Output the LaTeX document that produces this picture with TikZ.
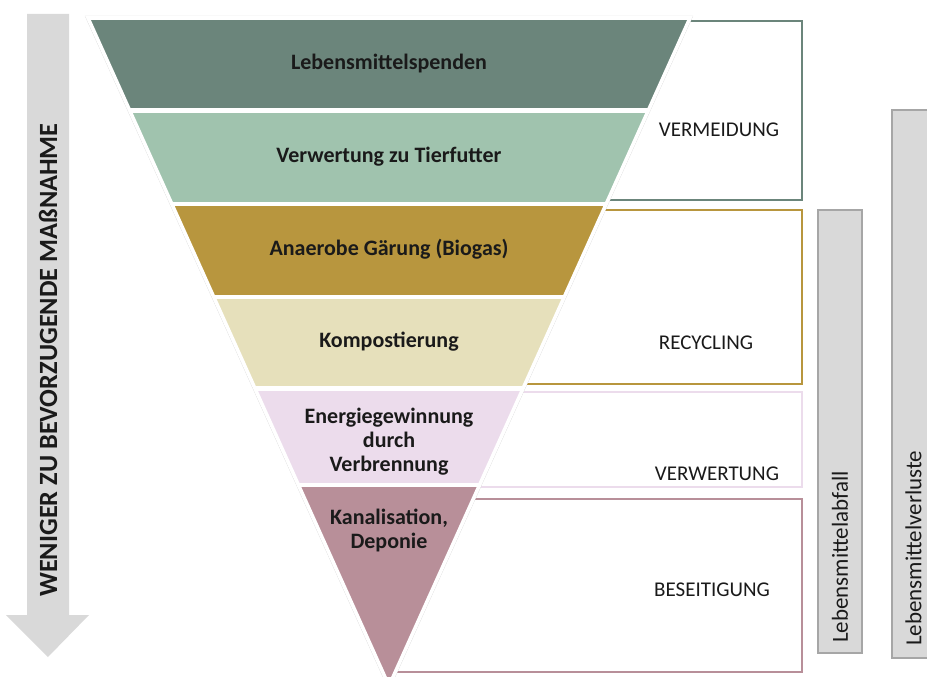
\documentclass[tikz,border=0pt]{standalone}
\usepackage{fontspec}
\setmainfont{Carlito}
\definecolor{cA}{HTML}{6B857B}
\definecolor{cB}{HTML}{A0C3AE}
\definecolor{cC}{HTML}{B8963E}
\definecolor{cD}{HTML}{E6E0BB}
\definecolor{cE}{HTML}{ECDCEC}
\definecolor{cF}{HTML}{B88F99}
\definecolor{barfill}{HTML}{D9D9D9}
\definecolor{barline}{HTML}{A6A6A6}
\definecolor{txt}{HTML}{1A1A1A}
\tikzset{
  layertext/.style={font=\fontsize{22}{24}\selectfont\bfseries, text=txt, align=center, inner sep=0pt},
  boxtext/.style={font=\fontsize{21}{24}\selectfont, text=txt, inner sep=0pt},
  boxline/.style={line width=2.6pt},
  barbox/.style={fill=barfill, draw=barline, line width=2.4pt},
  bartext/.style={font=\fontsize{23}{26}\selectfont, text=txt, rotate=90, inner sep=0pt, anchor=west}
}
\begin{document}
\begin{tikzpicture}[x=1pt,y=-1pt]
\useasboundingbox (0,0) rectangle (927,677);
% big arrow
\fill[barfill] (27,14) -- (69,14) -- (69,615) -- (89,615) -- (48,657) -- (6,615) -- (27,615) -- cycle;
\node[rotate=90, font=\fontsize{26.3}{28}\selectfont\bfseries, text=txt, inner sep=0pt] (arrowtext) at (48,360) {WENIGER ZU BEVORZUGENDE MAßNAHME};
% boxes behind funnel
\draw[boxline, draw=cA] (389,21) rectangle (802,200);
\draw[boxline, draw=cC] (389,210) rectangle (802,384);
\draw[boxline, draw=cE] (389,392) rectangle (802,487);
\draw[boxline, draw=cF] (389,499) rectangle (802,672);
% funnel
\coordinate (tl) at (88,18);
\coordinate (tr) at (690,18);
\coordinate (ap) at (389,686);
\draw[line width=4pt, draw=black!18, shift={(-1.5,1)}] (tl) -- (tr) -- (ap) -- cycle;
\fill[white] (tl) -- (tr) -- (ap) -- cycle;
\begin{scope}
\clip (tl) -- (tr) -- (ap) -- cycle;
\fill[cA] (0,18) rectangle (927,108.3);
\fill[cB] (0,112.5) rectangle (927,202);
\fill[cC] (0,206) rectangle (927,294.5);
\fill[cD] (0,298.5) rectangle (927,386.3);
\fill[cE] (0,390.5) rectangle (927,482.5);
\fill[cF] (0,486.7) rectangle (927,700);
\end{scope}
\draw[line width=3.6pt, draw=white, line join=miter] (tl) -- (tr) -- (ap) -- cycle;
% layer texts
\node[layertext] (l1) at (389,64) {Lebensmittelspenden};
\node[layertext] (l2) at (389,157) {Verwertung zu Tierfutter};
\node[layertext] (l3) at (389,249) {Anaerobe Gärung (Biogas)};
\node[layertext] (l4) at (389,342) {Kompostierung};
\node[layertext] (l5) at (389,442) {Energiegewinnung\\durch\\Verbrennung};
\node[layertext] (l6) at (389,530) {Kanalisation,\\Deponie};
% box labels
\node[boxtext] (b1) at (719,130) {VERMEIDUNG};
\node[boxtext] (b2) at (706,343) {RECYCLING};
\node[boxtext] (b3) at (717,474) {VERWERTUNG};
\node[boxtext] (b4) at (712,590) {BESEITIGUNG};
% side bars
\draw[barbox] (818,210) rectangle (862,653);
\draw[barbox] (892,110) rectangle (940,658);
\node[bartext] (s1) at (840,643) {Lebensmittelabfall};
\node[bartext] (s2) at (913.5,646) {Lebensmittelverluste};
\end{tikzpicture}
\end{document}
